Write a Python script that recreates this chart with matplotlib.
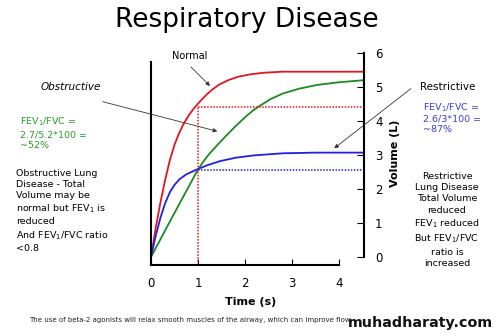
import matplotlib
matplotlib.use("Agg")
import matplotlib.pyplot as plt

# spirometry traces: time (s) and volume (L)
t_normal = [0, 0.1, 0.2, 0.3, 0.4, 0.5, 0.6, 0.7, 0.8, 0.9, 1.0, 1.1, 1.2, 1.3,
            1.45, 1.64, 1.85, 2.1, 2.4, 2.8, 3.5, 4.53]
v_normal = [0, 0.85, 1.6, 2.26, 2.84, 3.3, 3.65, 3.93, 4.16, 4.35, 4.51, 4.66, 4.8,
            4.92, 5.07, 5.2, 5.3, 5.37, 5.42, 5.45, 5.45, 5.45]

t_obstructive = [0, 0.47, 0.97, 1.1, 1.22, 1.35, 1.47, 1.6, 1.75, 1.9, 2.04, 2.18,
                 2.32, 2.55, 2.81, 3.15, 3.53, 4.0, 4.53]
v_obstructive = [0, 1.22, 2.5, 2.78, 3.0, 3.2, 3.38, 3.57, 3.78, 3.98, 4.16, 4.32,
                 4.45, 4.65, 4.81, 4.95, 5.06, 5.14, 5.2]

t_restrictive = [0, 0.1, 0.2, 0.3, 0.4, 0.5, 0.6, 0.75, 0.97, 1.2, 1.47, 1.8, 2.2,
                 2.8, 3.5, 4.53]
v_restrictive = [0, 0.62, 1.15, 1.58, 1.9, 2.12, 2.28, 2.43, 2.57, 2.7, 2.82, 2.92,
                 2.99, 3.05, 3.07, 3.07]

fev1_time = 1
fev1_normal = 4.42
fev1_restrictive = 2.55

x_ticks = [0, 1, 2, 3, 4]
y_ticks = [0, 1, 2, 3, 4, 5, 6]

RED = "#e8141c"
GREEN = "#1b8a22"
BLUE = "#2020e0"

W, H = 500, 336
# axis origin and scale in pixels
X0, XS = 151, 47
Y0, YS = 257, 34
X_END = 4.53


def fp(x, y):
    """image pixel (from top-left) -> figure pixels"""
    return (x, H - y)


fig = plt.figure(figsize=(W / 100, H / 100), dpi=100)
fig.patch.set_facecolor("white")
ax = fig.add_axes([0, 0, 1, 1])
ax.set_xlim(-X0 / XS, (W - X0) / XS)
ax.set_ylim((Y0 - H) / YS, Y0 / YS)
ax.patch.set_alpha(0)

ax.plot(t_normal, v_normal, color=RED, lw=1.3)
ax.plot(t_obstructive, v_obstructive, color=GREEN, lw=1.3)
ax.plot(t_restrictive, v_restrictive, color=BLUE, lw=1.3)

bottom = -0.235
dots = (0, (1, 1))
ax.plot([fev1_time, fev1_time], [bottom, fev1_normal], color=RED, lw=1.1, ls=dots)
ax.plot([fev1_time, X_END], [fev1_normal, fev1_normal], color=RED, lw=1.1, ls=dots)
ax.plot([fev1_time, X_END], [fev1_restrictive, fev1_restrictive], color=BLUE, lw=1.1, ls=dots)

# spines
ax.spines["top"].set_visible(False)
ax.spines["left"].set_position(("data", 0))
ax.spines["left"].set_bounds(bottom, (Y0 - 62) / YS)
ax.spines["bottom"].set_position(("data", bottom))
ax.spines["bottom"].set_bounds(0, 4)
ax.spines["right"].set_position(("data", X_END))
ax.spines["right"].set_bounds(0, 6)
for side in ["left", "bottom", "right"]:
    ax.spines[side].set_linewidth(1.5)

ax.set_xticks(x_ticks)
ax.tick_params(axis="x", direction="in", length=4, width=0.8, pad=9, labelsize=8.5)
ax.yaxis.set_ticks_position("right")
ax.set_yticks(y_ticks)
ax.tick_params(axis="y", direction="in", length=5, width=0.8, pad=8, labelsize=8.5)

fig.text(247 / W, 1 - 20 / H, "Respiratory Disease", ha="center", va="center", fontsize=19)

fig.text(251 / W, 1 - 302 / H, "Time (s)", ha="center", va="center", fontsize=8, fontweight="bold")
fig.text(395 / W, 1 - 153 / H, "Volume (L)", ha="center", va="center", rotation=90,
         fontsize=8, fontweight="bold")

arrow = dict(arrowstyle="-|>", lw=0.6, color="#333333", mutation_scale=6)

fig.text(190 / W, 1 - 56 / H, "Normal", ha="center", va="center", fontsize=7)
ax.annotate("", xy=fp(212, 88), xytext=fp(189, 65), xycoords="figure pixels",
            textcoords="figure pixels", arrowprops=arrow)

fig.text(71 / W, 1 - 87 / H, "Obstructive", ha="center", va="center", fontsize=7.5,
         style="italic")
ax.annotate("", xy=fp(220, 132), xytext=fp(100, 101), xycoords="figure pixels",
            textcoords="figure pixels", arrowprops=arrow)

fig.text(448 / W, 1 - 87 / H, "Restrictive", ha="center", va="center", fontsize=7.5)
ax.annotate("", xy=fp(332, 150), xytext=fp(413, 87), xycoords="figure pixels",
            textcoords="figure pixels", arrowprops=arrow)

fig.text(20 / W, 1 - 116 / H, "FEV$_1$/FVC =\n2.7/5.2*100 =\n~52%", ha="left", va="top",
         fontsize=6.8, color="#2a9a2a", linespacing=1.25)
fig.text(423 / W, 1 - 101 / H, "FEV$_1$/FVC =\n2.6/3*100 =\n~87%", ha="left", va="top",
         fontsize=6.8, color="#3a3ae0", linespacing=1.2)

fig.text(16 / W, 1 - 169 / H,
         "Obstructive Lung\nDisease - Total\nVolume may be\nnormal but FEV$_1$ is\n"
         "reduced\nAnd FEV$_1$/FVC ratio\n<0.8",
         ha="left", va="top", fontsize=6.8, linespacing=1.3)
fig.text(447 / W, 1 - 172 / H,
         "Restrictive\nLung Disease\nTotal Volume\nreduced\nFEV$_1$ reduced\n"
         "But FEV$_1$/FVC\nratio is\nincreased",
         ha="center", va="top", fontsize=6.8, linespacing=1.32)

fig.text(29 / W, 1 - 320 / H,
         "The use of beta-2 agonists will relax smooth muscles of the airway, "
         "which can improve flow",
         ha="left", va="center", fontsize=5.0, color="#222222")
fig.text(493 / W, 1 - 323 / H, "muhadharaty.com", ha="right", va="center",
         fontsize=10.3, fontweight="bold", color="#111111")

fig.savefig("out.png", dpi=100)
